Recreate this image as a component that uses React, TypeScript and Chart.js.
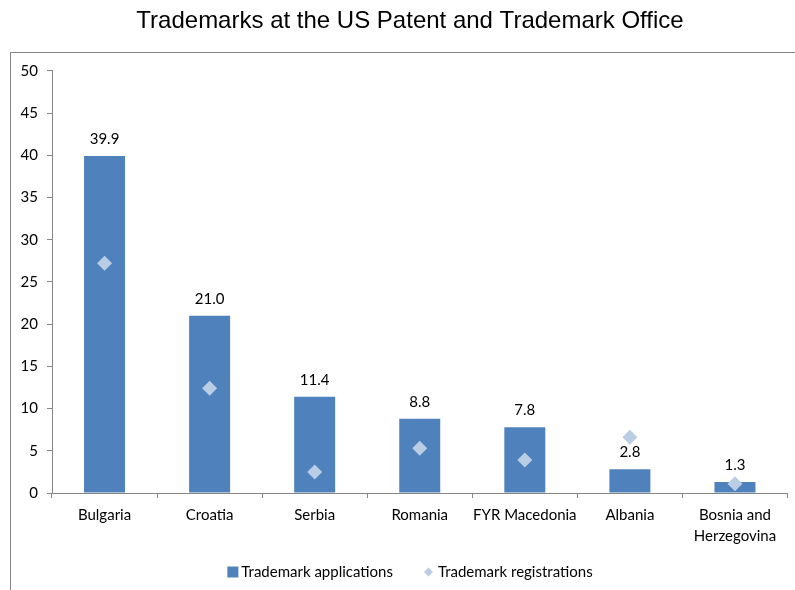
import React, { useEffect, useRef } from "react";
import { Chart, registerables } from "chart.js";

Chart.register(...registerables);

const categories: (string | string[])[] = [
  "Bulgaria",
  "Croatia",
  "Serbia",
  "Romania",
  "FYR Macedonia",
  "Albania",
  ["Bosnia and", "Herzegovina"],
];
const applications = [39.9, 21.0, 11.4, 8.8, 7.8, 2.8, 1.3];
const registrations = [27.2, 12.4, 2.5, 5.3, 3.9, 6.6, 1.1];
const seriesNames = ["Trademark applications", "Trademark registrations"];
const titleText = "Trademarks at the US Patent and Trademark Office";

const BAR = "#4F81BD";
const DIAMOND = "#B9CDE5";
const AXIS = "#868686";
const FONT = "Lato, 'Open Sans', sans-serif";

const valueLabels = {
  id: "valueLabels",
  afterDatasetsDraw(chart: any) {
    const ctx = chart.ctx;
    const meta = chart.getDatasetMeta(0);
    ctx.save();
    ctx.font = `15px ${FONT}`;
    ctx.fillStyle = "#000";
    ctx.textAlign = "center";
    ctx.textBaseline = "middle";
    meta.data.forEach((el: any, i: number) => {
      ctx.fillText(applications[i].toFixed(1), el.x, el.y - 17);
    });
    ctx.restore();
  },
};

const shiftTitle = {
  id: "shiftTitle",
  afterLayout(chart: any) {
    if (chart.titleBlock) {
      chart.titleBlock.left = 30;
      chart.titleBlock.right = 790;
    }
  },
};

const customLegend = {
  id: "customLegend",
  afterDraw(chart: any) {
    const ctx = chart.ctx;
    ctx.save();
    ctx.font = `15px ${FONT}`;
    ctx.textBaseline = "middle";
    ctx.textAlign = "left";
    const w1 = ctx.measureText(seriesNames[0]).width;
    const w2 = ctx.measureText(seriesNames[1]).width;
    const box = 11;
    const gap1 = 3;
    const between = 31;
    const dia = 9;
    const gap2 = 5;
    const total = box + gap1 + w1 + between + dia + gap2 + w2;
    const cy = 572;
    let x = 410 - total / 2;
    ctx.fillStyle = BAR;
    ctx.fillRect(x, cy - box / 2, box, box);
    x += box + gap1;
    ctx.fillStyle = "#000";
    ctx.fillText(seriesNames[0], x, cy);
    x += w1 + between;
    ctx.fillStyle = DIAMOND;
    ctx.beginPath();
    ctx.moveTo(x + dia / 2, cy - dia / 2);
    ctx.lineTo(x + dia, cy);
    ctx.lineTo(x + dia / 2, cy + dia / 2);
    ctx.lineTo(x, cy);
    ctx.closePath();
    ctx.fill();
    x += dia + gap2;
    ctx.fillStyle = "#000";
    ctx.fillText(seriesNames[1], x, cy);
    ctx.restore();
  },
};

export default function App() {
  const ref = useRef<HTMLCanvasElement>(null);
  useEffect(() => {
    const chart = new Chart(ref.current!, {
      type: "bar",
      data: {
        labels: categories as any,
        datasets: [
          {
            type: "bar",
            label: seriesNames[0],
            data: applications,
            backgroundColor: BAR,
            borderWidth: 0,
            barPercentage: 0.39,
            categoryPercentage: 1,
            order: 1,
          },
          {
            type: "line",
            label: seriesNames[1],
            data: registrations,
            showLine: false,
            pointStyle: "rectRot",
            pointRadius: 7.5,
            pointBackgroundColor: DIAMOND,
            pointBorderColor: DIAMOND,
            pointBorderWidth: 0,
            backgroundColor: DIAMOND,
            borderColor: DIAMOND,
            order: 0,
          } as any,
        ],
      },
      options: {
        animation: false,
        responsive: false,
        layout: { padding: { left: 0, right: 5, top: 0, bottom: 35 } },
        plugins: {
          title: {
            display: true,
            text: titleText,
            color: "#000",
            font: { family: "'Liberation Sans', Arial, sans-serif", size: 24, weight: "normal" },
            padding: { top: 7, bottom: 35 },
          },
          legend: { display: false },
          tooltip: { enabled: false },
        },
        scales: {
          x: {
            offset: true,
            grid: {
              offset: true,
              drawOnChartArea: false,
              drawTicks: true,
              tickLength: 5,
              color: AXIS,
            },
            border: { color: AXIS },
            ticks: {
              color: "#000",
              font: { family: FONT, size: 15, lineHeight: 1.4 },
              padding: 7,
              maxRotation: 0,
              autoSkip: false,
            },
            afterFit: (s: any) => {
              s.height = 62;
            },
          },
          y: {
            min: 0,
            max: 50,
            ticks: {
              stepSize: 5,
              color: "#000",
              font: { family: FONT, size: 15 },
              padding: 9,
            },
            grid: {
              drawOnChartArea: false,
              drawTicks: true,
              tickLength: 5,
              color: AXIS,
            },
            border: { color: AXIS },
            afterFit: (s: any) => {
              s.width = 52;
            },
          },
        },
      },
      plugins: [valueLabels, shiftTitle, customLegend],
    });
    return () => chart.destroy();
  }, []);

  return (
    <div style={{ position: "fixed", left: 0, top: 0, width: 795, height: 590, background: "#fff" }}>
      <div
        style={{
          position: "absolute",
          left: 10,
          top: 52,
          width: 800,
          height: 560,
          borderLeft: `1px solid ${AXIS}`,
          borderTop: `1px solid ${AXIS}`,
        }}
      />
      <canvas
        ref={ref}
        width={795}
        height={590}
        style={{ position: "absolute", left: 0, top: 0, display: "block" }}
      />
    </div>
  );
}
